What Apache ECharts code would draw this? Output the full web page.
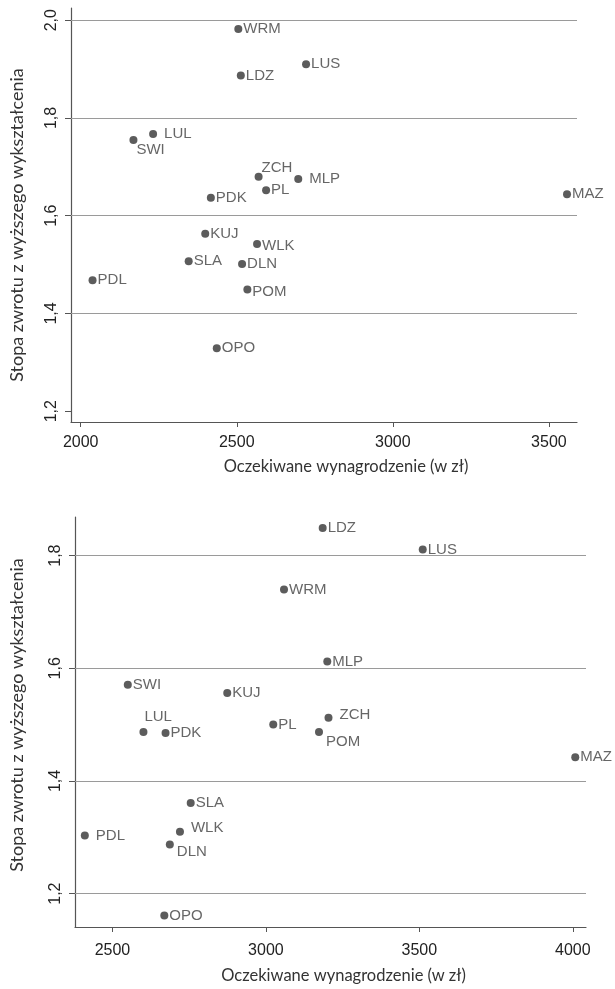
<!DOCTYPE html>
<html>
<head>
<meta charset="utf-8">
<script src="https://cdn.jsdelivr.net/npm/echarts@6/dist/echarts.min.js"></script>
<style>
  html, body { margin: 0; padding: 0; background: #fff; }
  #chart { width: 615px; height: 989px; }
</style>
</head>
<body>
<div id="chart"></div>
<script>
// województwa (kolejność wspólna dla obu wykresów)
const regions = ['WRM', 'LDZ', 'LUS', 'LUL', 'SWI', 'ZCH', 'PL', 'PDK', 'MLP',
                 'MAZ', 'KUJ', 'WLK', 'SLA', 'DLN', 'PDL', 'POM', 'OPO'];

// wykres górny
const wageTop = [2505, 2513, 2722, 2232, 2169, 2570, 2594, 2417, 2697,
                 3558, 2399, 2565, 2346, 2517, 2038, 2534, 2436];
const rateTop = [1.982, 1.887, 1.910, 1.767, 1.755, 1.680, 1.652, 1.637, 1.675,
                 1.644, 1.563, 1.542, 1.507, 1.501, 1.468, 1.449, 1.329];

// wykres dolny
const wageBottom = [3059, 3185, 3511, 2601, 2550, 3204, 3024, 2673, 3200,
                    4008, 2874, 2720, 2755, 2687, 2410, 3173, 2669];
const rateBottom = [1.740, 1.849, 1.811, 1.487, 1.571, 1.512, 1.500, 1.485, 1.612,
                    1.442, 1.556, 1.310, 1.361, 1.287, 1.303, 1.487, 1.161];

// osie
const xTicksTop = [2000, 2500, 3000, 3500];
const xTicksBottom = [2500, 3000, 3500, 4000];
const yTicks = [1.2, 1.4, 1.6, 1.8, 2.0];
const yTicksBottom = [1.2, 1.4, 1.6, 1.8];
const gridLinesTop = [1.4, 1.6, 1.8, 2.0];
const gridLinesBottom = [1.2, 1.4, 1.6, 1.8];

const xName = 'Oczekiwane wynagrodzenie (w zł)';
const yName = 'Stopa zwrotu z wyższego wykształcenia';

// przesunięcia etykiet punktów [dx, dy] (tylko wygląd)
const labelShiftTop = {
  LUL: [6, 0], SWI: [-2, 10], ZCH: [-2, -9], MLP: [6, 0], WLK: [0, 2], POM: [0, 2]
};
const labelShiftBottom = {
  ZCH: [6, -3], POM: [2, 10], LUL: [-4, -15], WLK: [6, -4], DLN: [2, 7], PDL: [6, 0]
};

const labelFont = 'Liberation Sans, Arial, sans-serif';
const titleFont = 'Lato, "Open Sans", sans-serif';
const fmtY = v => v.toFixed(1).replace('.', ',');
const fmtX = v => String(v);

function points(wage, rate, shifts) {
  return regions.map((name, i) => {
    const s = shifts[name];
    const p = { name: name, value: [wage[i], rate[i]] };
    if (s) p.label = { offset: s };
    return p;
  });
}

function gridLines(values) {
  return {
    silent: true,
    symbol: 'none',
    label: { show: false },
    lineStyle: { color: '#9a9a9a', width: 1.2, type: 'solid' },
    data: values.map(v => ({ yAxis: v }))
  };
}

function xAxis(idx, min, max, ticks, margin, nameGap, namePad) {
  return {
    type: 'value', gridIndex: idx, min: min, max: max,
    name: xName, nameLocation: 'middle', nameGap: nameGap,
    nameTextStyle: { color: '#333', fontSize: 16.5, fontFamily: titleFont, padding: namePad },
    axisLine: { show: true, lineStyle: { color: '#555', width: 1.2 } },
    axisTick: { show: true, length: 5, customValues: ticks, lineStyle: { color: '#555' } },
    axisLabel: { customValues: ticks, margin: margin, color: '#222', fontSize: 16,
                 fontFamily: labelFont, formatter: fmtX },
    splitLine: { show: false }
  };
}

function yAxis(idx, min, max, ticks, nameGap, namePad) {
  return {
    type: 'value', gridIndex: idx, min: min, max: max,
    name: yName, nameLocation: 'middle', nameGap: nameGap,
    nameTextStyle: { color: '#333', fontSize: 18, fontFamily: titleFont, padding: namePad },
    axisLine: { show: true, lineStyle: { color: '#555', width: 1.2 } },
    axisTick: { show: true, length: 6, customValues: ticks, lineStyle: { color: '#555' } },
    axisLabel: { customValues: ticks, rotate: 90, margin: 11, color: '#222', fontSize: 16,
                 fontFamily: labelFont, formatter: fmtY },
    splitLine: { show: false }
  };
}

function scatter(idx, data, lines) {
  return {
    type: 'scatter', xAxisIndex: idx, yAxisIndex: idx,
    data: data, symbolSize: 8,
    itemStyle: { color: '#333' },
    label: {
      show: true, position: 'right', distance: 1,
      formatter: '{b}', color: '#404040', fontSize: 15, fontFamily: labelFont
    },
    markLine: gridLines(lines),
    z: 3
  };
}

const chart = echarts.init(document.getElementById('chart'), null, { renderer: 'canvas' });
chart.setOption({
  backgroundColor: '#fff',
  animation: false,
  grid: [
    { left: 71, right: 38, top: 8, bottom: 567 },
    { left: 75, right: 29, top: 517, bottom: 62 }
  ],
  xAxis: [
    xAxis(0, 1969, 3590, xTicksTop, 13, 36, [0, 0, 0, 44]),
    xAxis(1, 2378, 4043, xTicksBottom, 16, 40, [0, 0, 0, 26])
  ],
  yAxis: [
    yAxis(0, 1.178, 2.025, yTicks, 45, [0, 20, 0, 0]),
    yAxis(1, 1.1407, 1.8686, yTicksBottom, 49, [0, 0, 0, 14])
  ],
  series: [
    scatter(0, points(wageTop, rateTop, labelShiftTop), gridLinesTop),
    scatter(1, points(wageBottom, rateBottom, labelShiftBottom), gridLinesBottom)
  ]
});
window.addEventListener('resize', () => chart.resize());
</script>
</body>
</html>
